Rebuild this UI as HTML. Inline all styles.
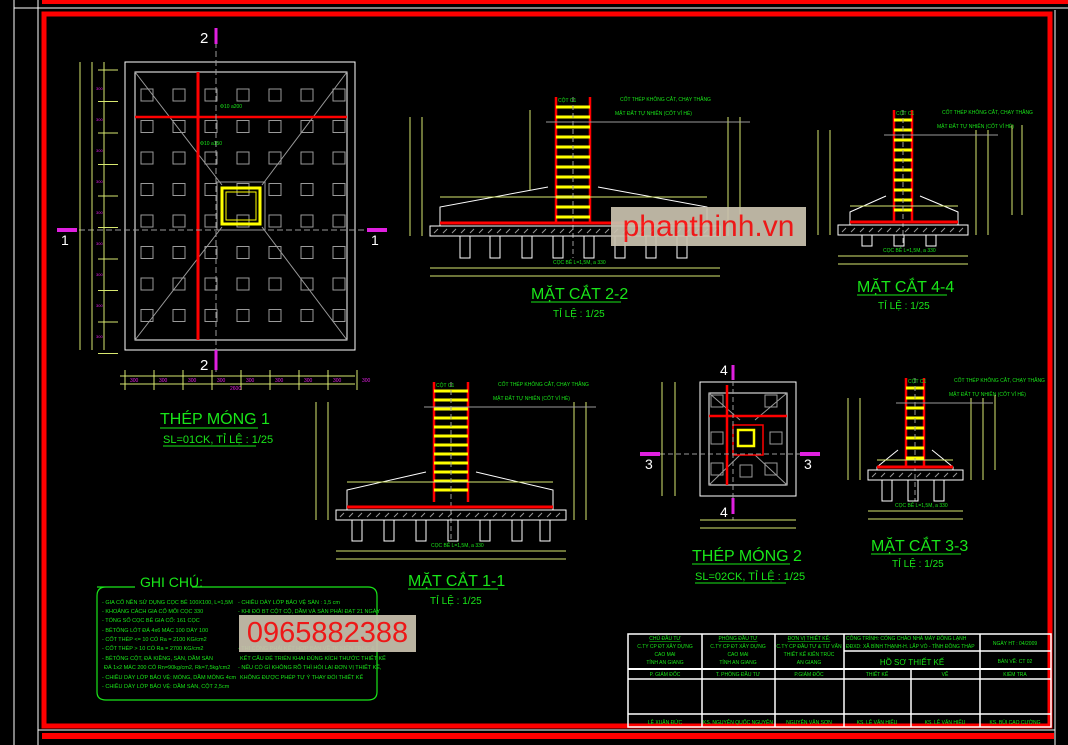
<!DOCTYPE html>
<html><head><meta charset="utf-8">
<style>
html,body{margin:0;padding:0;background:#000;width:1068px;height:745px;overflow:hidden}
svg{display:block}
text{font-family:"Liberation Sans",sans-serif}
.wm{position:absolute;background:#c9c1ae;opacity:.93;color:#ff1a1a;font-family:"Liberation Sans",sans-serif;display:flex;align-items:center;justify-content:center}
</style></head><body>
<div style="position:relative;width:1068px;height:745px">
<svg id="s" width="1068" height="745" viewBox="0 0 1068 745" xmlns="http://www.w3.org/2000/svg">
<!-- frames -->
<line x1="14" y1="0" x2="14" y2="745" stroke="#fff" stroke-width="1"/>
<line x1="38" y1="0" x2="38" y2="745" stroke="#fff" stroke-width="1"/>
<line x1="14" y1="8" x2="1068" y2="8" stroke="#fff" stroke-width="1"/>
<rect x="42" y="0" width="1026" height="4" fill="#f00"/>
<rect x="44" y="14" width="1006" height="712" fill="none" stroke="#f00" stroke-width="5"/>
<line x1="1055" y1="10" x2="1055" y2="745" stroke="#fff" stroke-width="1"/>
<rect x="42" y="733" width="1012" height="6" fill="#f00"/>
<line x1="38" y1="730" x2="1055" y2="730" stroke="#fff" stroke-width="1"/>
<g id="g"></g>
<!-- titles -->
<g fill="#19e619" font-size="15">
<text x="160" y="424" font-size="16">THÉP MÓNG 1</text>
<line x1="160" y1="428" x2="258" y2="428" stroke="#19e619"/>
<text x="163" y="443" font-size="11">SL=01CK, TỈ LỆ : 1/25</text>
<line x1="163" y1="446" x2="256" y2="446" stroke="#19e619"/>
<text x="531" y="299" font-size="16">MẶT CẮT 2-2</text>
<line x1="531" y1="302" x2="621" y2="302" stroke="#19e619"/>
<text x="553" y="317" font-size="10">TỈ LỆ : 1/25</text>
<text x="857" y="292" font-size="16">MẶT CẮT 4-4</text>
<line x1="857" y1="295" x2="947" y2="295" stroke="#19e619"/>
<text x="878" y="309" font-size="10">TỈ LỆ : 1/25</text>
<text x="408" y="586" font-size="16">MẶT CẮT 1-1</text>
<line x1="408" y1="589" x2="498" y2="589" stroke="#19e619"/>
<text x="430" y="604" font-size="10">TỈ LỆ : 1/25</text>
<text x="692" y="561" font-size="16">THÉP MÓNG 2</text>
<line x1="692" y1="564" x2="790" y2="564" stroke="#19e619"/>
<text x="695" y="580" font-size="11">SL=02CK, TỈ LỆ : 1/25</text>
<line x1="695" y1="583" x2="786" y2="583" stroke="#19e619"/>
<text x="871" y="551" font-size="16">MẶT CẮT 3-3</text>
<line x1="871" y1="554" x2="961" y2="554" stroke="#19e619"/>
<text x="892" y="567" font-size="10">TỈ LỆ : 1/25</text>
<text x="140" y="587" font-size="14">GHI CHÚ:</text>
</g>
<path d="M97 587 H135 M192 587 H368 Q377 587 377 596 V692 Q377 700 368 700 H106 Q97 700 97 692 V596 Q97 587 106 587" fill="none" stroke="#19e619" stroke-width="1.2"/>
<g fill="#19e619" font-size="5.5">
<text x="102" y="604">- GIA CỐ NỀN SỬ DỤNG CỌC BÊ 100X100, L=1,5M</text>
<text x="102" y="613">- KHOẢNG CÁCH GIA CỐ MỖI CỌC 330</text>
<text x="102" y="622">- TỔNG SỐ CỌC BÊ GIA CỐ: 161 CỌC</text>
<text x="102" y="632">- BÊTÔNG LÓT ĐÁ 4x6 MÁC 100 DÀY 100</text>
<text x="102" y="641">- CỐT THÉP &lt;= 10 CÓ Ra = 2100 KG/cm2</text>
<text x="102" y="650">- CỐT THÉP &gt; 10 CÓ Ra = 2700 KG/cm2</text>
<text x="102" y="660">- BÊTÔNG CỘT, ĐÀ KIỀNG, SÀN, DẦM SÀN</text>
<text x="104" y="669">ĐÁ 1x2 MÁC 200 CÓ Rn=90kg/cm2, Rk=7,5kg/cm2</text>
<text x="102" y="679">- CHIỀU DÀY LỚP BẢO VỆ: MÓNG, DẦM MÓNG 4cm</text>
<text x="102" y="688">- CHIỀU DÀY LỚP BẢO VỆ: DẦM SÀN, CỘT 2,5cm</text>
<text x="238" y="604">- CHIỀU DÀY LỚP BẢO VỆ SÀN : 1,5 cm</text>
<text x="238" y="613">- KHI ĐỔ BT CỘT CỘ, DẦM VÀ SÀN PHẢI ĐẠT 21 NGÀY</text>
<text x="238" y="650">- THI CÔNG PHẢI KẾT HỢP BẢN VẼ TK KIẾN TRÚC &amp;</text>
<text x="240" y="660">KẾT CẤU ĐỂ TRIỂN KHAI ĐÚNG KÍCH THƯỚC THIẾT KẾ</text>
<text x="238" y="669">- NẾU CÓ GÌ KHÔNG RÕ THÌ HỎI LẠI ĐƠN VỊ THIẾT KẾ,</text>
<text x="240" y="679">KHÔNG ĐƯỢC PHÉP TỰ Ý THAY ĐỔI THIẾT KẾ</text>
</g>
<!-- title block -->
<g stroke="#fff" stroke-width="1.5" fill="none">
<rect x="628" y="634" width="423" height="93"/>
<line x1="628" y1="669" x2="1051" y2="669" stroke-width="2"/>
<line x1="628" y1="679" x2="1051" y2="679"/>
<line x1="628" y1="714" x2="1051" y2="714"/>
<line x1="702" y1="634" x2="702" y2="727"/>
<line x1="775" y1="634" x2="775" y2="727"/>
<line x1="844" y1="634" x2="844" y2="727"/>
<line x1="911" y1="669" x2="911" y2="727"/>
<line x1="980" y1="634" x2="980" y2="727"/>
<line x1="844" y1="651" x2="1051" y2="651"/>
</g>
<g fill="#19e619" font-size="5" text-anchor="middle">
<text x="665" y="640" text-decoration="underline">CHỦ ĐẦU TƯ</text><text x="665" y="648">C.TY CP ĐT XÂY DỰNG</text><text x="665" y="656">CAO MAI</text><text x="665" y="664">TỈNH AN GIANG</text>
<text x="738" y="640" text-decoration="underline">PHÒNG ĐẦU TƯ</text><text x="738" y="648">C.TY CP ĐT XÂY DỰNG</text><text x="738" y="656">CAO MAI</text><text x="738" y="664">TỈNH AN GIANG</text>
<text x="809" y="640" text-decoration="underline">ĐƠN VỊ THIẾT KẾ:</text><text x="809" y="648">C.TY CP ĐẦU TƯ &amp; TƯ VẤN</text><text x="809" y="656">THIẾT KẾ KIẾN TRÚC</text><text x="809" y="664">AN GIANG</text>
<text x="665" y="676">P. GIÁM ĐỐC</text><text x="738" y="676">T. PHÒNG ĐẦU TƯ</text><text x="809" y="676">P.GIÁM ĐỐC</text>
<text x="877" y="676">THIẾT KẾ</text><text x="945" y="676">VẼ</text><text x="1015" y="676">KIỂM TRA</text>
<text x="665" y="724">LÊ XUÂN ĐỨC</text><text x="738" y="724">KS. NGUYỄN QUỐC NGUYÊN</text><text x="809" y="724">NGUYỄN VĂN SƠN</text>
<text x="877" y="724">KS. LÊ VĂN HIẾU</text><text x="945" y="724">KS. LÊ VĂN HIẾU</text><text x="1015" y="724">KS. BÙI CAO CƯỜNG</text>
<text x="1015" y="645">NGÀY HT : 04/2009</text><text x="1015" y="663">BẢN VẼ: CT 02</text>
<text x="912" y="665" font-size="8">HỒ SƠ THIẾT KẾ</text>
<text x="846" y="640" text-anchor="start">CÔNG TRÌNH: CỔNG CHÀO NHÀ MÁY ĐÔNG LẠNH</text>
<text x="846" y="648" text-anchor="start">ĐĐXD: XÃ BÌNH THẠNH-H. LẤP VÒ - TỈNH ĐỒNG THÁP</text>
</g>
</svg>
<div class="wm" style="left:611px;top:207px;width:195px;height:39px;font-size:30px">phanthinh.vn</div>
<div class="wm" style="left:239px;top:615px;width:177px;height:37px;font-size:29px">0965882388</div>
</div>
<script>
var g=document.getElementById('g'),h='';
function L(a,b,c,d,col,w,da){h+='<line x1="'+a+'" y1="'+b+'" x2="'+c+'" y2="'+d+'" stroke="'+col+'" stroke-width="'+(w||1)+'"'+(da?' stroke-dasharray="'+da+'"':'')+'/>';}
function R(x,y,w,ht,col,sw,fill){h+='<rect x="'+x+'" y="'+y+'" width="'+w+'" height="'+ht+'" stroke="'+col+'" stroke-width="'+(sw||1)+'" fill="'+(fill||'none')+'"/>';}
function T(x,y,s,col,fs){h+='<text x="'+x+'" y="'+y+'" fill="'+col+'" font-size="'+fs+'">'+s+'</text>';}
var Y='#d8e870',M='#e020e0',W='#fff',G='#9a9a9a',RD='#f00';
// plan 1
R(125,62,230,288,W,1);R(135,72,212,268,W,1);
for(var i=0;i<7;i++)for(var j=0;j<8;j++)R(141+i*32,89+j*31.5,12,12,G,1);
L(135,72,222,185,G);L(347,72,262,185,G);L(135,340,222,227,G);L(347,340,262,227,G);
L(198,72,198,340,RD,3);L(135,117,347,117,RD,2.5);
R(217,182,48,48,G);R(222,188,38,36,'#ff0',3);R(226,192,30,28,'#ff0',1);
L(216,42,216,372,G,1,'6 3');L(70,230,370,230,G,1,'6 3');
L(216,28,216,44,M,3);L(216,350,216,370,M,3);L(57,230,77,230,M,4);L(367,230,387,230,M,4);
T(200,43,'2',W,15);T(200,370,'2',W,15);T(61,245,'1',W,14);T(371,245,'1',W,14);
L(80,62,80,350,Y);L(92,62,92,350,Y);L(104,62,104,350,Y);
for(var j=0;j<10;j++)L(98,70+j*31.5,118,70+j*31.5,Y);
for(var j=0;j<9;j++)T(96,90+j*31,'300',M,4);
L(120,376,355,376,Y);L(120,384,355,384,Y);
for(var i=0;i<9;i++){L(125+i*29,370,125+i*29,390,Y);T(130+i*29,382,'300',M,5);}
T(230,390,'2600',M,5);
T(220,108,'Φ10 a200',"#19e619",5);T(200,145,'Φ10 a150',"#19e619",5);
// section generic
function sec(cx,hw,ctop,cbot,fx1,fx2,sy,ty,bx1,bx2,by,piles,pb,rung){
 L(cx-hw,ctop,cx-hw,cbot,RD,2.5);L(cx+hw,ctop,cx+hw,cbot,RD,2.5);
 for(var y=ctop+rung;y<cbot-4;y+=rung)L(cx-hw,y,cx+hw,y,'#ff0',3);
 L(cx,ctop,cx,pb,G,1,'5 3');
 h+='<polyline points="'+fx1+','+(by)+' '+fx1+','+sy+' '+(cx-hw-8)+','+ty+'" fill="none" stroke="'+W+'"/>';
 h+='<polyline points="'+fx2+','+(by)+' '+fx2+','+sy+' '+(cx+hw+8)+','+ty+'" fill="none" stroke="'+W+'"/>';
 L(fx1,by-3,fx2,by-3,RD,3);
 R(bx1,by,bx2-bx1,10,W,1);
 for(var x=bx1+4;x<bx2-4;x+=9)L(x,by+7,x+4,by+3,G);
 piles.forEach(function(px){h+='<polyline points="'+px+','+(by+10)+' '+px+','+pb+' '+(px+10)+','+pb+' '+(px+10)+','+(by+10)+'" fill="none" stroke="'+W+'"/>';});
 L(bx1,pb+10,bx2,pb+10,Y);L(bx1,pb+18,bx2,pb+18,Y);
 L(bx1-8,ctop+20,bx1-8,by+10,Y);L(bx1-20,ctop+20,bx1-20,by+10,Y);
 L(bx2+8,ctop+20,bx2+8,by+10,Y);L(bx2+20,ctop+20,bx2+20,by+10,Y);
 L(cx-hw-10,ctop+25,bx2+30,ctop+25,G);L(fx1,ty+10,fx2,ty+10,Y);
 T(cx-hw+2,ctop+5,'CỘT C1',"#19e619",5);
 T(cx+hw+30,ctop+4,'CỐT THÉP KHÔNG CẮT, CHẠY THẲNG',"#19e619",5);
 T(cx+hw+25,ctop+18,'MẶT ĐẤT TỰ NHIÊN (CỐT VỈ HÈ)',"#19e619",5);
 T(cx-20,pb+6,'CỌC BÊ L=1,5M, a 330',"#19e619",5);
}
sec(573,17,97,222,440,707,207,187,430,720,226,[460,490,522,553,584,615,646,677],258,10);
sec(451,17,382,502,347,553,490,472,336,566,510,[352,384,416,448,480,512,540],541,9);
sec(903,9,110,222,850,958,212,196,838,968,225,[862,894,926],246,10);
sec(915,9,378,467,877,953,467,450,868,963,470,[882,908,934],501,10);
// plan 2
R(700,382,96,114,W,1);R(709,393,78,92,W,1);
L(709,393,740,420,G);L(787,393,755,420,G);L(709,485,740,455,G);L(787,485,755,455,G);
[[711,395],[765,395],[711,432],[770,432],[711,463],[765,463],[740,465]].forEach(function(p){R(p[0],p[1],12,12,G);});
L(727,385,727,485,RD,2.5);L(709,416,787,416,RD,2.5);
R(733,425,30,30,RD,1.5);R(738,430,16,16,'#ff0',2.5);
L(733,365,733,520,G,1,'5 3');L(660,454,810,454,G,1,'5 3');
L(733,365,733,380,M,3);L(733,498,733,514,M,3);L(640,454,660,454,M,4);L(800,454,820,454,M,4);
T(720,375,'4',W,14);T(720,517,'4',W,14);T(645,469,'3',W,14);T(804,469,'3',W,14);
L(662,382,662,496,Y);L(675,382,675,496,Y);L(700,520,796,520,Y);L(700,528,796,528,Y);
// misc dim lines on sections
L(530,110,530,190,Y);L(1012,125,1012,215,Y);L(1022,125,1022,215,Y);L(995,395,995,470,Y);
g.innerHTML=h;
</script>
</body></html>
